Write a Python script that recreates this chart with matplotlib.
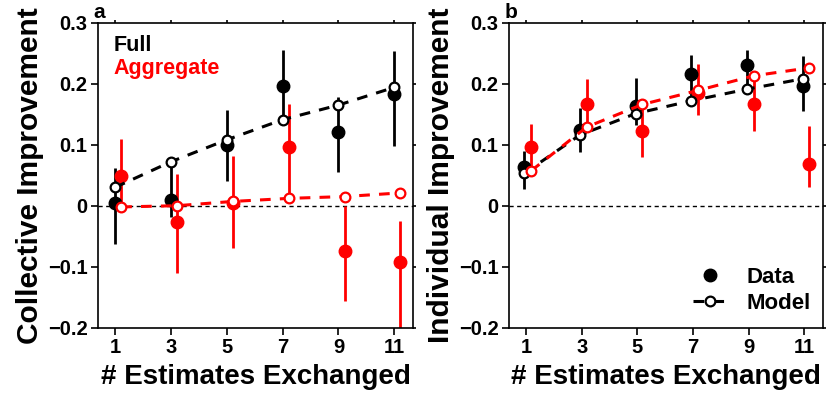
import matplotlib
matplotlib.use("Agg")
import matplotlib.pyplot as plt
from matplotlib.lines import Line2D

plt.rcParams['font.family'] = ['Liberation Sans', 'DejaVu Sans']
plt.rcParams['font.weight'] = 'bold'

x = [1, 3, 5, 7, 9, 11]
xticklabels = ['1', '3', '5', '7', '9', '11']

# Panel a: Collective improvement
a_full_data = [0.005, 0.010, 0.100, 0.197, 0.121, 0.183]
a_full_lo = [-0.063, -0.018, 0.040, 0.140, 0.056, 0.098]
a_full_hi = [0.061, 0.070, 0.157, 0.255, 0.179, 0.254]
a_full_model = [0.030, 0.072, 0.108, 0.141, 0.165, 0.194]
a_agg_data = [0.048, -0.026, 0.004, 0.097, -0.074, -0.093]
a_agg_lo = [0.000, -0.111, -0.070, 0.015, -0.156, -0.215]
a_agg_hi = [0.109, 0.052, 0.082, 0.167, 0.000, -0.025]
a_agg_model = [-0.002, 0.000, 0.007, 0.012, 0.015, 0.021]

# Panel b: Individual improvement
b_full_data = [0.064, 0.124, 0.163, 0.216, 0.231, 0.197]
b_full_lo = [0.028, 0.088, 0.132, 0.173, 0.192, 0.156]
b_full_hi = [0.090, 0.160, 0.209, 0.247, 0.255, 0.245]
b_full_model = [0.053, 0.116, 0.151, 0.172, 0.191, 0.208]
b_agg_data = [0.096, 0.166, 0.122, 0.184, 0.167, 0.068]
b_agg_lo = [0.058, 0.125, 0.080, 0.149, 0.123, 0.031]
b_agg_hi = [0.134, 0.207, 0.168, 0.233, 0.214, 0.130]
b_agg_model = [0.057, 0.129, 0.166, 0.189, 0.213, 0.226]

fig = plt.figure(figsize=(8.27, 3.98), dpi=100)
axa = fig.add_axes([98/827, 70.3/398, 315/827, 305/398])
axb = fig.add_axes([509/827, 70.3/398, 314/827, 305/398])

RED = '#ff0000'

def draw(ax, series, offs):
    ax.axhline(0, color='black', lw=1.0, ls=(0, (3, 2.5)), zorder=1)
    for (data, lo, hi, model, col), off in zip(series, offs):
        xs = [v + off for v in x]
        ax.vlines(xs, lo, hi, color=col, lw=2.0, zorder=2)
        ax.plot(xs, data, 'o', color=col, ms=9, mec=col, zorder=3)
        ax.plot(xs, model, color=col, lw=2.2, ls=(0, (3.5, 3)), marker='o',
                ms=7, mfc='white', mec=col, mew=1.6, zorder=4)

draw(axa, [(a_full_data, a_full_lo, a_full_hi, a_full_model, 'black'),
           (a_agg_data, a_agg_lo, a_agg_hi, a_agg_model, RED)], [0.0, 0.22])
draw(axb, [(b_full_data, b_full_lo, b_full_hi, b_full_model, 'black'),
           (b_agg_data, b_agg_lo, b_agg_hi, b_agg_model, RED)], [-0.06, 0.18])

yticks = [-0.2, -0.1, 0, 0.1, 0.2, 0.3]
yticklabels = ['\u22120.2', '\u22120.1', '0', '0.1', '0.2', '0.3']
for ax in (axa, axb):
    ax.set_xlim(0.39, 11.67)
    ax.set_ylim(-0.2, 0.3)
    ax.set_xticks(x)
    ax.set_xticklabels(xticklabels, fontsize=14.5, fontweight='bold')
    ax.set_yticks(yticks)
    ax.set_yticklabels(yticklabels, fontsize=14.5, fontweight='bold')
    ax.tick_params(axis='both', which='both', direction='out', length=5, width=1.2, pad=2.5)
    ax.tick_params(top=True, right=True)
    for t in ax.xaxis.get_major_ticks():
        t.tick2line.set_markersize(2)
    for t in ax.yaxis.get_major_ticks():
        t.tick2line.set_markersize(2)
    for s in ax.spines.values():
        s.set_linewidth(1.2)
    ax.set_xlabel('# Estimates Exchanged', fontsize=20, fontweight='bold', labelpad=5)

axa.set_ylabel('Collective Improvement', fontsize=21.5, fontweight='bold', labelpad=3)
axb.set_ylabel('Individual Improvement', fontsize=21.5, fontweight='bold', labelpad=3)

axa.text(-0.015, 1.003, 'a', transform=axa.transAxes, fontsize=15, fontweight='bold', va='bottom', ha='left')
axb.text(-0.015, 1.003, 'b', transform=axb.transAxes, fontsize=15, fontweight='bold', va='bottom', ha='left')

axa.text(0.05, 0.925, 'Full', transform=axa.transAxes, fontsize=15.5, fontweight='bold', color='black', va='center')
axa.text(0.05, 0.85, 'Aggregate', transform=axa.transAxes, fontsize=15.5, fontweight='bold', color=RED, va='center')

handles = [Line2D([], [], color='black', marker='o', ls='none', ms=9),
           Line2D([], [], color='black', marker='o', ls=(0, (3.5, 3)), lw=2.2, ms=7,
                  mfc='white', mew=1.6)]
leg = axb.legend(handles, ['Data', 'Model'], loc='lower right', frameon=False,
                 prop={'size': 16, 'weight': 'bold'}, handlelength=1.6,
                 handletextpad=0.85, labelspacing=0.2, borderaxespad=0.3,
                 bbox_to_anchor=(1.012, -0.005))

fig.savefig('out.png', dpi=100)
